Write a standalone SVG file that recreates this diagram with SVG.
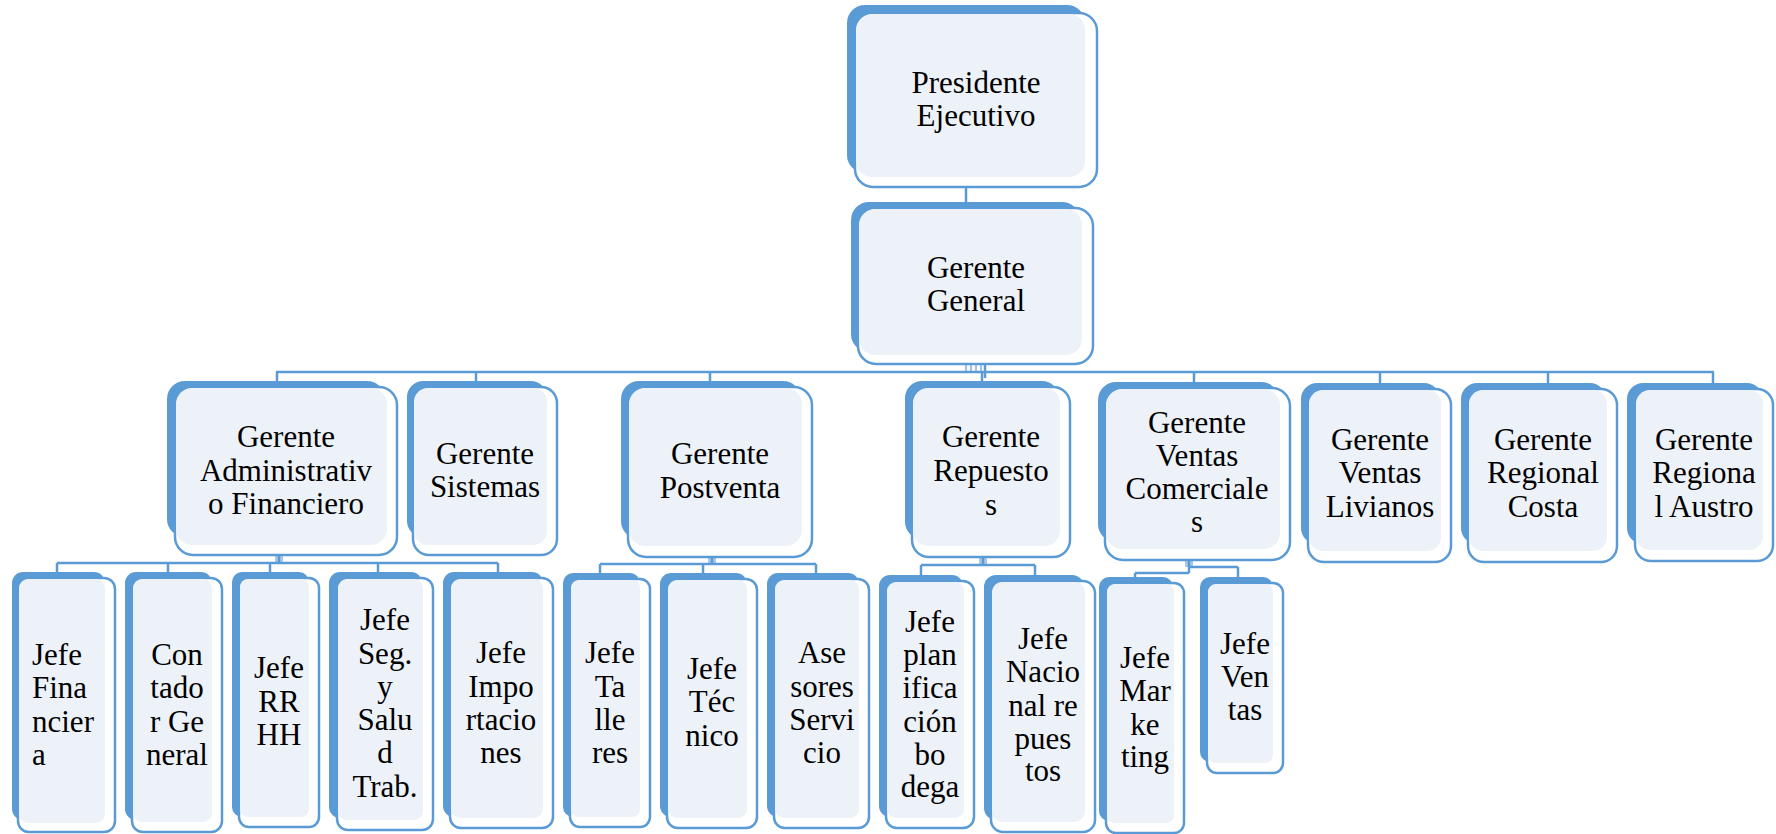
<svg xmlns="http://www.w3.org/2000/svg" width="1776" height="834" viewBox="0 0 1776 834">
  <style>
    .back { fill: #5B9BD5; }
    .frame { fill: #FFFFFF; stroke: #5B9BD5; stroke-width: 2.5; }
    .face { fill: #EDF2F9; }
    .lbl { font-family: "Liberation Serif", "Times New Roman", serif; font-size: 31px; fill: #000000; text-anchor: middle; }
    .lbl.left { text-anchor: start; }
    .wire { fill: none; stroke: #5B9BD5; stroke-width: 2.5; }
    .tick { fill: none; stroke: #9DC3E6; stroke-width: 2; }
    .stub { fill: #A9C8EA; }
  </style>
  <rect width="1776" height="834" fill="#FFFFFF"/>

  <!-- connectors -->
  <g id="connectors">
    <!-- Presidente -> Gerente General -->
    <path class="wire" d="M966 186 V204"/>
    <!-- Gerente General -> managers bus -->
    <path class="tick" d="M966 358 V372 M971 358 V372 M976 358 V372 M981 358 V372"/>
    <path class="wire" d="M985 362 V378"/>
    <path class="wire" d="M276 372 H1714"/>
    <path class="wire" d="M277 372 V382 M476 372 V382 M710 372 V382 M982 372 V382 M1194 372 V383 M1380 372 V383 M1548 372 V383 M1713 372 V383"/>
    <!-- Gerente Administrativo Financiero -> jefes -->
    <rect class="stub" x="275" y="548" width="8" height="15"/>
    <path class="wire" d="M279 556 V563 M57 563 H498 M57 563 V572 M168 563 V572 M270 563 V572 M378 563 V572 M498 563 V572"/>
    <!-- Gerente Postventa -> jefes -->
    <rect class="stub" x="708" y="549" width="8" height="15"/>
    <path class="wire" d="M712 557 V564 M600 564 H816 M600 564 V573 M703 564 V573 M816 564 V573"/>
    <!-- Gerente Repuestos -> jefes -->
    <rect class="stub" x="979" y="550" width="8" height="15"/>
    <path class="wire" d="M983 558 V565 M921 565 H1035 M921 565 V575 M1035 565 V575"/>
    <!-- Gerente Ventas Comerciales -> jefes -->
    <rect class="stub" x="1185" y="552" width="8" height="15"/>
    <path class="wire" d="M1189 560 V573 M1135 573 H1189 M1135 573 V578 M1189 567 H1238 M1238 567 V578"/>
  </g>

  <!-- level 1 -->
  <g id="presidente">
    <rect class="back" x="847" y="5" width="238" height="168" rx="18"/>
    <rect class="frame" x="855" y="13" width="242" height="174" rx="18"/>
    <rect class="face" x="856" y="14" width="229" height="163" rx="16"/>
    <text class="lbl" x="976" y="93">Presidente</text>
    <text class="lbl" x="976" y="126">Ejecutivo</text>
  </g>

  <!-- level 2 -->
  <g id="gerente-general">
    <rect class="back" x="851" y="202" width="229" height="150" rx="18"/>
    <rect class="frame" x="858" y="208" width="235" height="156" rx="18"/>
    <rect class="face" x="859" y="209" width="223" height="146" rx="16"/>
    <text class="lbl" x="976" y="278">Gerente</text>
    <text class="lbl" x="976" y="311">General</text>
  </g>

  <!-- level 3 -->
  <g id="gerente-administrativo">
    <rect class="back" x="167" y="381" width="218" height="156" rx="18"/>
    <rect class="frame" x="175" y="387" width="222" height="168" rx="18"/>
    <rect class="face" x="176" y="388" width="211" height="157" rx="16"/>
    <text class="lbl" x="286" y="447">Gerente</text>
    <text class="lbl" x="286" y="481">Administrativ</text>
    <text class="lbl" x="286" y="514">o Financiero</text>
  </g>
  <g id="gerente-sistemas">
    <rect class="back" x="407" y="381" width="140" height="156" rx="16"/>
    <rect class="frame" x="413" y="387" width="144" height="168" rx="16"/>
    <rect class="face" x="414" y="388" width="133" height="157" rx="14"/>
    <text class="lbl" x="485" y="464">Gerente</text>
    <text class="lbl" x="485" y="497">Sistemas</text>
  </g>
  <g id="gerente-postventa">
    <rect class="back" x="621" y="381" width="180" height="158" rx="18"/>
    <rect class="frame" x="628" y="387" width="184" height="170" rx="18"/>
    <rect class="face" x="629" y="388" width="173" height="158" rx="16"/>
    <text class="lbl" x="720" y="464">Gerente</text>
    <text class="lbl" x="720" y="498">Postventa</text>
  </g>
  <g id="gerente-repuestos">
    <rect class="back" x="905" y="381" width="154" height="158" rx="17"/>
    <rect class="frame" x="912" y="387" width="158" height="170" rx="17"/>
    <rect class="face" x="913" y="388" width="147" height="158" rx="15"/>
    <text class="lbl" x="991" y="447">Gerente</text>
    <text class="lbl" x="991" y="481">Repuesto</text>
    <text class="lbl" x="991" y="515">s</text>
  </g>
  <g id="gerente-ventas-comerciales">
    <rect class="back" x="1098" y="382" width="181" height="160" rx="18"/>
    <rect class="frame" x="1105" y="388" width="185" height="172" rx="18"/>
    <rect class="face" x="1106" y="389" width="174" height="160" rx="16"/>
    <text class="lbl" x="1197" y="433">Gerente</text>
    <text class="lbl" x="1197" y="466">Ventas</text>
    <text class="lbl" x="1197" y="499">Comerciale</text>
    <text class="lbl" x="1197" y="532">s</text>
  </g>
  <g id="gerente-ventas-livianos">
    <rect class="back" x="1301" y="383" width="139" height="161" rx="16"/>
    <rect class="frame" x="1308" y="389" width="143" height="173" rx="16"/>
    <rect class="face" x="1309" y="390" width="132" height="161" rx="14"/>
    <text class="lbl" x="1380" y="450">Gerente</text>
    <text class="lbl" x="1380" y="483">Ventas</text>
    <text class="lbl" x="1380" y="517">Livianos</text>
  </g>
  <g id="gerente-regional-costa">
    <rect class="back" x="1461" y="383" width="145" height="161" rx="16"/>
    <rect class="frame" x="1468" y="389" width="149" height="173" rx="16"/>
    <rect class="face" x="1469" y="390" width="138" height="161" rx="14"/>
    <text class="lbl" x="1543" y="450">Gerente</text>
    <text class="lbl" x="1543" y="483">Regional</text>
    <text class="lbl" x="1543" y="517">Costa</text>
  </g>
  <g id="gerente-regional-austro">
    <rect class="back" x="1627" y="383" width="136" height="161" rx="16"/>
    <rect class="frame" x="1635" y="389" width="138" height="172" rx="16"/>
    <rect class="face" x="1636" y="390" width="127" height="160" rx="14"/>
    <text class="lbl" x="1704" y="450">Gerente</text>
    <text class="lbl" x="1704" y="483">Regiona</text>
    <text class="lbl" x="1704" y="517">l Austro</text>
  </g>

  <!-- level 4 -->
  <g id="jefe-financiera">
    <rect class="back" x="12" y="572" width="93" height="248" rx="11"/>
    <rect class="frame" x="18" y="578" width="97" height="254" rx="11"/>
    <rect class="face" x="19" y="579" width="86" height="244" rx="9"/>
    <text class="lbl left" x="32" y="665">Jefe</text>
    <text class="lbl left" x="32" y="698">Fina</text>
    <text class="lbl left" x="32" y="732">ncier</text>
    <text class="lbl left" x="32" y="765">a</text>
  </g>
  <g id="contador-general">
    <rect class="back" x="125" y="572" width="87" height="248" rx="11"/>
    <rect class="frame" x="132" y="578" width="90" height="254" rx="11"/>
    <rect class="face" x="133" y="579" width="79" height="243" rx="9"/>
    <text class="lbl" x="177" y="665">Con</text>
    <text class="lbl" x="177" y="698">tado</text>
    <text class="lbl" x="177" y="732">r Ge</text>
    <text class="lbl" x="177" y="765">neral</text>
  </g>
  <g id="jefe-rrhh">
    <rect class="back" x="232" y="572" width="77" height="245" rx="10"/>
    <rect class="frame" x="239" y="578" width="80" height="249" rx="10"/>
    <rect class="face" x="240" y="579" width="69" height="238" rx="8"/>
    <text class="lbl" x="279" y="678">Jefe</text>
    <text class="lbl" x="279" y="712">RR</text>
    <text class="lbl" x="279" y="745">HH</text>
  </g>
  <g id="jefe-seguridad-salud">
    <rect class="back" x="329" y="572" width="93" height="246" rx="11"/>
    <rect class="frame" x="337" y="578" width="96" height="252" rx="11"/>
    <rect class="face" x="338" y="579" width="85" height="241" rx="9"/>
    <text class="lbl" x="385" y="630">Jefe</text>
    <text class="lbl" x="385" y="664">Seg.</text>
    <text class="lbl" x="385" y="697">y</text>
    <text class="lbl" x="385" y="730">Salu</text>
    <text class="lbl" x="385" y="763">d</text>
    <text class="lbl" x="385" y="797">Trab.</text>
  </g>
  <g id="jefe-importaciones">
    <rect class="back" x="443" y="572" width="100" height="245" rx="11"/>
    <rect class="frame" x="450" y="578" width="103" height="250" rx="11"/>
    <rect class="face" x="451" y="579" width="92" height="239" rx="9"/>
    <text class="lbl" x="501" y="663">Jefe</text>
    <text class="lbl" x="501" y="697">Impo</text>
    <text class="lbl" x="501" y="730">rtacio</text>
    <text class="lbl" x="501" y="763">nes</text>
  </g>
  <g id="jefe-talleres">
    <rect class="back" x="563" y="573" width="77" height="244" rx="10"/>
    <rect class="frame" x="570" y="579" width="80" height="248" rx="10"/>
    <rect class="face" x="571" y="580" width="69" height="237" rx="8"/>
    <text class="lbl" x="610" y="663">Jefe</text>
    <text class="lbl" x="610" y="697">Ta</text>
    <text class="lbl" x="610" y="730">lle</text>
    <text class="lbl" x="610" y="763">res</text>
  </g>
  <g id="jefe-tecnico">
    <rect class="back" x="660" y="573" width="87" height="244" rx="11"/>
    <rect class="frame" x="667" y="579" width="90" height="249" rx="11"/>
    <rect class="face" x="668" y="580" width="79" height="238" rx="9"/>
    <text class="lbl" x="712" y="679">Jefe</text>
    <text class="lbl" x="712" y="712">Téc</text>
    <text class="lbl" x="712" y="746">nico</text>
  </g>
  <g id="asesores-servicio">
    <rect class="back" x="767" y="573" width="92" height="244" rx="11"/>
    <rect class="frame" x="774" y="579" width="95" height="249" rx="11"/>
    <rect class="face" x="775" y="580" width="84" height="238" rx="9"/>
    <text class="lbl" x="822" y="663">Ase</text>
    <text class="lbl" x="822" y="697">sores</text>
    <text class="lbl" x="822" y="730">Servi</text>
    <text class="lbl" x="822" y="763">cio</text>
  </g>
  <g id="jefe-planificacion-bodega">
    <rect class="back" x="879" y="575" width="84" height="242" rx="11"/>
    <rect class="frame" x="886" y="581" width="88" height="247" rx="11"/>
    <rect class="face" x="887" y="582" width="77" height="236" rx="9"/>
    <text class="lbl" x="930" y="632">Jefe</text>
    <text class="lbl" x="930" y="665">plan</text>
    <text class="lbl" x="930" y="698">ifica</text>
    <text class="lbl" x="930" y="732">ción</text>
    <text class="lbl" x="930" y="765">bo</text>
    <text class="lbl" x="930" y="797">dega</text>
  </g>
  <g id="jefe-nacional-repuestos">
    <rect class="back" x="984" y="575" width="100" height="245" rx="12"/>
    <rect class="frame" x="991" y="581" width="104" height="251" rx="12"/>
    <rect class="face" x="992" y="582" width="93" height="240" rx="10"/>
    <text class="lbl" x="1043" y="649">Jefe</text>
    <text class="lbl" x="1043" y="682">Nacio</text>
    <text class="lbl" x="1043" y="716">nal re</text>
    <text class="lbl" x="1043" y="749">pues</text>
    <text class="lbl" x="1043" y="781">tos</text>
  </g>
  <g id="jefe-marketing">
    <rect class="back" x="1099" y="577" width="74" height="244" rx="10"/>
    <rect class="frame" x="1106" y="583" width="78" height="250" rx="10"/>
    <rect class="face" x="1107" y="584" width="67" height="239" rx="8"/>
    <text class="lbl" x="1145" y="668">Jefe</text>
    <text class="lbl" x="1145" y="701">Mar</text>
    <text class="lbl" x="1145" y="735">ke</text>
    <text class="lbl" x="1145" y="767">ting</text>
  </g>
  <g id="jefe-ventas">
    <rect class="back" x="1200" y="577" width="73" height="185" rx="10"/>
    <rect class="frame" x="1207" y="583" width="76" height="190" rx="10"/>
    <rect class="face" x="1208" y="584" width="65" height="179" rx="8"/>
    <text class="lbl" x="1245" y="654">Jefe</text>
    <text class="lbl" x="1245" y="687">Ven</text>
    <text class="lbl" x="1245" y="720">tas</text>
  </g>
</svg>
